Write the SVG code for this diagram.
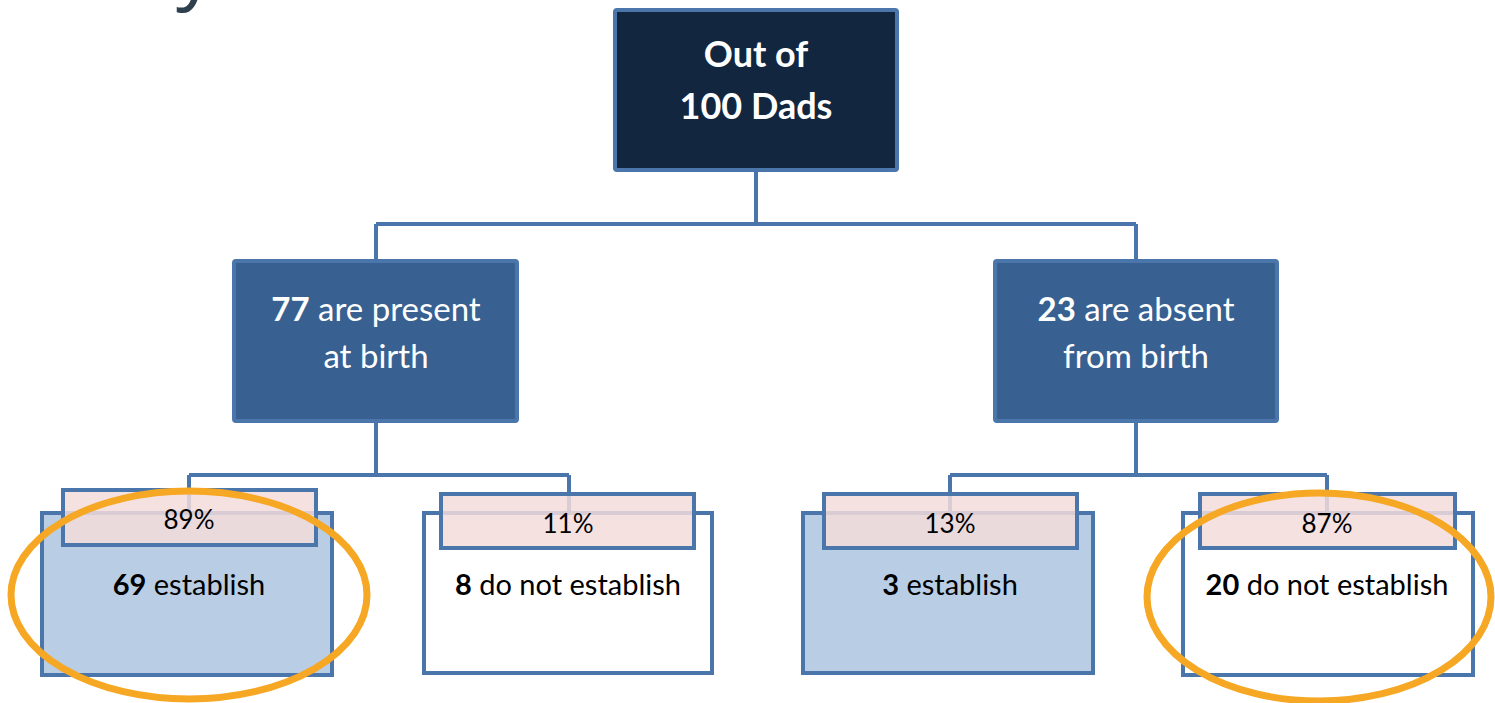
<svg xmlns="http://www.w3.org/2000/svg" width="1495" height="703" viewBox="0 0 1495 703">
<style>
.conn{fill:none;stroke:#4a76ab;stroke-width:4}
.top{fill:#132640;stroke:#4a76ab;stroke-width:4}
.mid{fill:#386191;stroke:#4a76ab;stroke-width:4}
.blue{fill:#b9cde5;stroke:#4a76ab;stroke-width:4}
.white{fill:#ffffff;stroke:#4a76ab;stroke-width:4}
.tab{fill:#f2dcdb;fill-opacity:0.85;stroke:#4a76ab;stroke-width:4}
.ring{fill:none;stroke:#f6a723;stroke-width:7}
.wt{font-family:Lato,"Open Sans",sans-serif;fill:#ffffff;text-anchor:middle}
.bt{font-family:Lato,"Open Sans",sans-serif;fill:#000000;text-anchor:middle}
</style>
<rect width="1495" height="703" fill="#ffffff"/>
<text x="176" y="-6" font-family="'Open Sans',sans-serif" font-size="80" fill="#2e3f4e">y</text>
<g id="connectors">
<path class="conn" d="M756 170V224M376 224H1136M376 224V262M1136 224V262"/>
<path class="conn" d="M376 421V475M189 475H569M189 475V513M569 475V513"/>
<path class="conn" d="M1136 421V475M950 475H1327M950 475V513M1327 475V513"/>
</g>
<g id="n-root">
<rect class="top" x="615" y="10" width="282" height="160" rx="2"/>
<text class="wt" x="756" y="67" font-size="36" font-weight="bold">Out of</text>
<text class="wt" x="756" y="119" font-size="36" font-weight="bold">100 Dads</text>
</g>
<g id="n-present">
<rect class="mid" x="234" y="261" width="283" height="160" rx="2"/>
<text class="wt" x="376" y="321" font-size="33"><tspan font-weight="bold">77</tspan> are present</text>
<text class="wt" x="376" y="368" font-size="33">at birth</text>
</g>
<g id="n-absent">
<rect class="mid" x="995" y="261" width="282" height="160" rx="2"/>
<text class="wt" x="1136" y="321" font-size="33"><tspan font-weight="bold">23</tspan> are absent</text>
<text class="wt" x="1136" y="368" font-size="33">from birth</text>
</g>
<g id="n-69">
<rect class="blue" x="42" y="513" width="290" height="162"/>
<rect class="tab" x="63" y="490" width="253" height="55"/>
<text class="bt" x="189" y="529" font-size="26">89%</text>
<text class="bt" x="189" y="595" font-size="29"><tspan font-weight="bold">69</tspan> establish</text>
</g>
<g id="n-8">
<rect class="white" x="424" y="513" width="288" height="160"/>
<rect class="tab" x="441" y="494" width="253" height="54"/>
<text class="bt" x="568" y="533" font-size="26">11%</text>
<text class="bt" x="568" y="595" font-size="29"><tspan font-weight="bold">8</tspan> do not establish</text>
</g>
<g id="n-3">
<rect class="blue" x="803" y="513" width="290" height="160"/>
<rect class="tab" x="824" y="494" width="253" height="54"/>
<text class="bt" x="950" y="533" font-size="26">13%</text>
<text class="bt" x="950" y="595" font-size="29"><tspan font-weight="bold">3</tspan> establish</text>
</g>
<g id="n-20">
<rect class="white" x="1183" y="513" width="290" height="162"/>
<rect class="tab" x="1200" y="494" width="255" height="54"/>
<text class="bt" x="1327" y="533" font-size="26">87%</text>
<text class="bt" x="1327" y="595" font-size="29"><tspan font-weight="bold">20</tspan> do not establish</text>
</g>
<g id="highlights">
<ellipse class="ring" cx="189" cy="595" rx="178" ry="104"/>
<ellipse class="ring" cx="1319" cy="597" rx="172" ry="104"/>
</g>
</svg>
